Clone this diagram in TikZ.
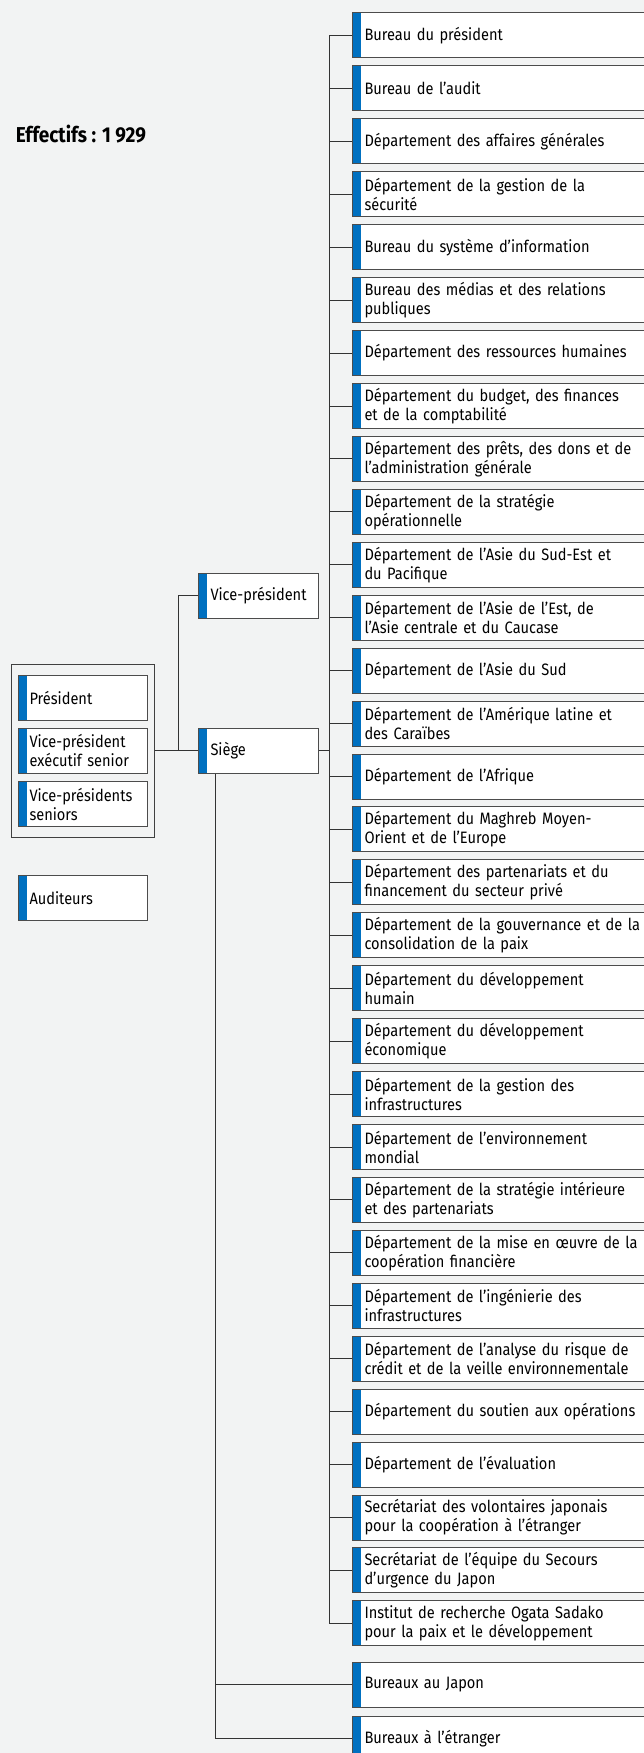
\documentclass[tikz,border=0pt]{standalone}
\usepackage{fontspec}
\setmainfont{Fira Sans}[FakeStretch=0.885]
\usepackage{tikz}
\definecolor{bgcol}{RGB}{242,243,243}
\definecolor{jblue}{RGB}{0,112,192}
\exhyphenpenalty=10000

\begin{document}
\begin{tikzpicture}[x=1pt,y=-1pt,line width=1pt]
    \tikzstyle{box}=[rectangle,draw=black!70,fill=white,minimum height=45pt,inner xsep=12pt,
        align=left,font=\fontsize{16.5}{19}\selectfont,anchor=west,
        path picture={\fill[jblue] (path picture bounding box.south west) rectangle ([xshift=8pt]path picture bounding box.north west);}]
    \tikzstyle{dept}=[box,text width=330pt]
    \tikzstyle{small}=[box,text width=107pt,inner xsep=11pt]
    \tikzstyle{mid}=[box,text width=96pt]
    \tikzstyle{link}=[draw=black!80]

\useasboundingbox (0,0) rectangle (644,1753);
\fill[bgcol] (0,0) rectangle (644,1753);
\clip (0,0) rectangle (644,1753);

\node[anchor=base west,font=\bfseries\fontsize{21.5}{24}\selectfont] (staff) at (12,142) {Effectifs : 1 929};

% direction
\node[draw=black!75,minimum width=143pt,minimum height=173pt] (grp) at (82.5,750.5) {};
\node[small] (pres) at (18,697.5) {Président};
\node[small] (vpes) at (18,750.5) {Vice-président\\exécutif senior};
\node[small] (vps) at (18,804) {Vice-présidents\\seniors};
\node[small] (aud) at (18,898) {Auditeurs};

\node[mid] (vp) at (198,595.5) {Vice-président};
\node[mid] (siege) at (198,750.5) {Siège};

\coordinate (fork) at (178,0);
\coordinate (spine) at (329,0);
\coordinate (trunk) at (215,0);

\draw[link] (grp.east) -- (siege.west);
\draw[link] (grp.east -| fork) |- (vp.west);

% departements du siege
\foreach \lbl [count=\i from 0] in {
    {Bureau du président},
    {Bureau de l’audit},
    {Département des affaires générales},
    {Département de la gestion de la\\sécurité},
    {Bureau du système d’information},
    {Bureau des médias et des relations\\publiques},
    {Département des ressources humaines},
    {Département du budget, des finances\\et de la comptabilité},
    {Département des prêts, des dons et de\\l’administration générale},
    {Département de la stratégie\\opérationnelle},
    {Département de l’Asie du Sud-Est et\\du Pacifique},
    {Département de l’Asie de l’Est, de\\l’Asie centrale et du Caucase},
    {Département de l’Asie du Sud},
    {Département de l’Amérique latine et\\des Caraïbes},
    {Département de l’Afrique},
    {Département du Maghreb Moyen-\\Orient et de l’Europe},
    {Département des partenariats et du\\financement du secteur privé},
    {Département de la gouvernance et de la\\consolidation de la paix},
    {Département du développement\\humain},
    {Département du développement\\économique},
    {Département de la gestion des\\infrastructures},
    {Département de l’environnement\\mondial},
    {Département de la stratégie intérieure\\et des partenariats},
    {Département de la mise en œuvre de la\\coopération financière},
    {Département de l’ingénierie des\\infrastructures},
    {Département de l’analyse du risque de\\crédit et de la veille environnementale},
    {Département du soutien aux opérations},
    {Département de l’évaluation},
    {Secrétariat des volontaires japonais\\pour la coopération à l’étranger},
    {Secrétariat de l’équipe du Secours\\d’urgence du Japon},
    {Institut de recherche Ogata Sadako\\pour la paix et le développement}}
{
    \node[dept] (d\i) at (352,{35.5+52.93*\i}) {\lbl};
    \draw[link] (d\i.west) -- (d\i.west -| spine);
}
\draw[link] (d0.west -| spine) -- (d30.west -| spine);
\draw[link] (siege.east) -- (siege.east -| spine);

% bureaux
\node[dept] (jap) at (352,1684.5) {Bureaux au Japon};
\node[dept] (etr) at (352,1738.5) {Bureaux à l’étranger};
\draw[link] (siege.south -| trunk) |- (etr.west);
\draw[link] (jap.west) -- (jap.west -| trunk);
\end{tikzpicture}
\end{document}
